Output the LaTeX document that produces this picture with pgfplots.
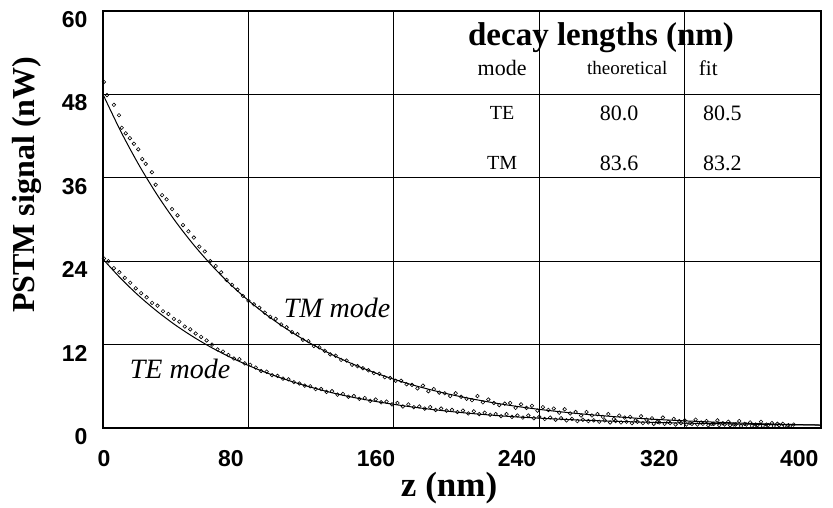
\documentclass[border=0pt]{standalone}
\usepackage{fontspec}
\setmainfont{Liberation Serif}
\newfontfamily\sansb{Liberation Sans}
\usepackage{pgfplots}
\pgfplotsset{compat=1.18}
\newcommand{\fs}[1]{\fontsize{#1}{#1}\selectfont}
\begin{document}
\begin{tikzpicture}
\path[use as bounding box] (-103pt,-79pt) rectangle (730pt,428pt);
\begin{axis}[
    scale only axis,
    width=718pt, height=417pt,
    xmin=0, xmax=395, ymin=0, ymax=60,
    axis line style={line width=1.2pt},
    % labels sit a little off the grid lines in the original
    xtick={0.5,70.4,150.2,227.8,306,383},
    xticklabels={0,80,160,240,320,400},
    ytick={0,12,24,36,48,60},
    yticklabels={0,12,24,36,48,60},
    major tick length=0pt,
    extra x ticks={80,160,240,320},
    extra x tick labels={,,,},
    extra x tick style={grid=major},
    ymajorgrids,
    major grid style={black,line width=0.9pt},
    tick label style={font=\fs{23}\sansb\bfseries},
    xticklabel style={yshift=-19pt},
    yticklabel style={xshift=-12pt,yshift=-8.5pt},
    xlabel={\textbf{z (nm)}},
    xlabel style={font=\fs{35},at={(axis description cs:0.482,-0.144)},anchor=center},
    ylabel={\textbf{PSTM signal (nW)}},
    ylabel style={font=\fs{32},at={(axis description cs:-0.106,0.583)},anchor=center},
    clip=false,
]
% TM data
\addplot[only marks, mark=o, mark size=1.8pt, mark options={line width=0.6pt}] coordinates {
(0.5,49.8)(2.2,47.9)(6,46.5)(8.8,45.0)(10.3,43.2)(12.5,42.4)(14.8,41.7)(17,40.9)(19.4,40.1)(21.6,38.7)(23.5,38.0)(26.9,36.8)(29,35.0)(32.5,33.5)(35,32.9)(38,31.5)(41,30.6)(44,29.2)(47,28.3)(50,27.4)(53,26.1)(56,25.4)(59,24.0)(62,23.3)(65,22.4)(68,21.3)(71,20.6)(74,19.9)(77,19.0)(80,18.3)(83,17.8)(86,17.3)(89,16.6)(92,16.0)(95,15.7)(98,14.9)(101,14.5)(104,13.8)(107,13.5)(110,12.7)(113,12.5)(116,11.8)(119,11.6)(122,11.1)(125,10.6)(128,10.4)(131,9.8)(134,9.7)(137,9.1)(140,8.9)(143,8.6)(146,8.3)(149,7.9)(152,7.8)(155,7.3)(158,7.2)(161,6.8)(164,6.8)(167,6.3)(170,6.2)(173,5.7)(176,6.1)(179,5.3)(182,5.6)(185,5.1)(188,5.0)(191,4.6)(194,5.0)(197,4.5)(200,4.2)(203,4.0)(206,4.6)(209,3.7)(212,4.1)(215,3.6)(218,3.3)(221,3.5)(224,3.6)(227,2.9)(230,3.4)(233,2.9)(236,3.2)(239,2.5)(242,3.0)(245,2.6)(248,2.8)(251,2.2)(254,2.7)(257,2.1)(260,2.3)(263,1.8)(266,2.3)(269,1.8)(272,2.0)(275,1.6)(278,2.0)(281,1.3)(284,1.8)(287,1.5)(290,1.6)(293,1.1)(296,1.7)(299,1.2)(302,1.4)(305,0.9)(308,1.5)(311,0.9)(314,1.3)(317,1.0)(320,1.1)(323,0.7)(326,1.2)(329,0.8)(332,1.0)(335,0.6)(338,1.1)(341,0.7)(344,0.9)(347,0.5)(350,1.0)(353,0.6)(356,0.8)(359,0.5)(362,0.9)(365,0.5)(368,0.7)(371,0.6)(374,0.6)(377,0.4)(380,0.5)
};
% TE data
\addplot[only marks, mark=o, mark size=1.8pt, mark options={line width=0.6pt}] coordinates {
(0.5,24.4)(3,24.0)(6,23.0)(9,22.4)(12,21.6)(15,20.9)(18,20.1)(21,19.4)(24,18.8)(27,18.0)(30,17.6)(33,16.8)(36,16.4)(39,15.7)(42,15.3)(45,14.6)(48,14.2)(51,13.6)(54,13.1)(57,12.6)(60,12.0)(63,11.3)(66,11.0)(69,10.5)(72,10.0)(75,9.9)(78,9.3)(81,9.1)(84,8.7)(87,8.2)(90,8.1)(93,7.6)(96,7.5)(99,7.1)(102,7.0)(105,6.6)(108,6.4)(111,6.1)(114,6.0)(117,5.6)(120,5.6)(123,5.2)(126,5.3)(129,4.8)(132,4.9)(135,4.5)(138,4.6)(141,4.2)(144,4.3)(147,3.9)(150,4.1)(153,3.7)(156,3.8)(159,3.4)(162,3.6)(165,3.1)(168,3.4)(171,3.0)(174,3.1)(177,2.8)(180,3.0)(183,2.6)(186,2.8)(189,2.5)(192,2.6)(195,2.3)(198,2.5)(201,2.1)(204,2.4)(207,2.0)(210,2.2)(213,1.9)(216,2.0)(219,1.7)(222,2.0)(225,1.6)(228,1.8)(231,1.5)(234,1.8)(237,1.4)(240,1.6)(243,1.3)(246,1.5)(249,1.2)(252,1.4)(255,1.1)(258,1.3)(261,1.0)(264,1.2)(267,1.0)(270,1.1)(273,0.9)(276,1.1)(279,0.8)(282,1.0)(285,0.8)(288,0.9)(291,0.7)(294,0.9)(297,0.7)(300,0.8)(303,0.6)(306,0.8)(309,0.6)(312,0.7)(315,0.5)(318,0.7)(321,0.5)(324,0.6)(327,0.5)(330,0.6)(333,0.4)(336,0.6)(339,0.4)(342,0.5)(345,0.4)(348,0.5)(351,0.3)(354,0.5)(357,0.3)(360,0.4)(363,0.3)(366,0.4)(369,0.3)(372,0.4)(375,0.3)(378,0.3)
};
% TM fit
\addplot[black, line width=1pt, smooth] coordinates {
(0,48.00)(10,42.57)(20,37.74)(30,33.47)(40,29.68)(50,26.32)(60,23.34)(70,20.69)(80,18.35)(90,16.27)(100,14.43)(110,12.79)(120,11.35)(130,10.06)(140,8.92)(150,7.91)(160,7.02)(170,6.22)(180,5.52)(190,4.89)(200,4.34)(210,3.85)(220,3.41)(230,3.02)(240,2.68)(250,2.38)(260,2.11)(270,1.87)(280,1.66)(290,1.47)(300,1.30)(310,1.16)(320,1.03)(330,0.91)(340,0.81)(350,0.71)(360,0.63)(370,0.56)(380,0.50)(390,0.44)(395,0.42)
};
% TE fit
\addplot[black, line width=1pt, smooth] coordinates {
(0,24.30)(10,21.46)(20,18.95)(30,16.74)(40,14.78)(50,13.06)(60,11.53)(70,10.19)(80,9.00)(90,7.94)(100,7.02)(110,6.20)(120,5.47)(130,4.83)(140,4.29)(150,3.82)(160,3.40)(170,3.03)(180,2.70)(190,2.41)(200,2.15)(210,1.93)(220,1.73)(230,1.56)(240,1.42)(250,1.29)(260,1.17)(270,1.07)(280,0.98)(290,0.90)(300,0.83)(310,0.77)(320,0.71)(330,0.66)(340,0.61)(350,0.57)(360,0.53)(370,0.50)(380,0.47)(390,0.44)(395,0.43)
};
\node[font=\fs{28}\itshape] at (axis cs:128.8,17.3) {TM mode};
\node[font=\fs{28}\itshape] at (axis cs:42.4,8.5) {TE mode};
% table
\node[font=\fs{33}\bfseries] at (axis cs:274,56.1) {decay lengths (nm)};
\node[font=\fs{22}] at (axis cs:219.6,51.8) {mode};
\node[font=\fs{19}] at (axis cs:288.4,51.8) {theoretical};
\node[font=\fs{21}] at (axis cs:333,51.8) {fit};
\node[font=\fs{20}] at (axis cs:219.6,45.3) {TE};
\node[font=\fs{22}] at (axis cs:284,45.3) {80.0};
\node[font=\fs{22}] at (axis cs:340.7,45.3) {80.5};
\node[font=\fs{20}] at (axis cs:219.6,38.1) {TM};
\node[font=\fs{22}] at (axis cs:284,38.1) {83.6};
\node[font=\fs{22}] at (axis cs:340.7,38.1) {83.2};
\end{axis}
\end{tikzpicture}
\end{document}
